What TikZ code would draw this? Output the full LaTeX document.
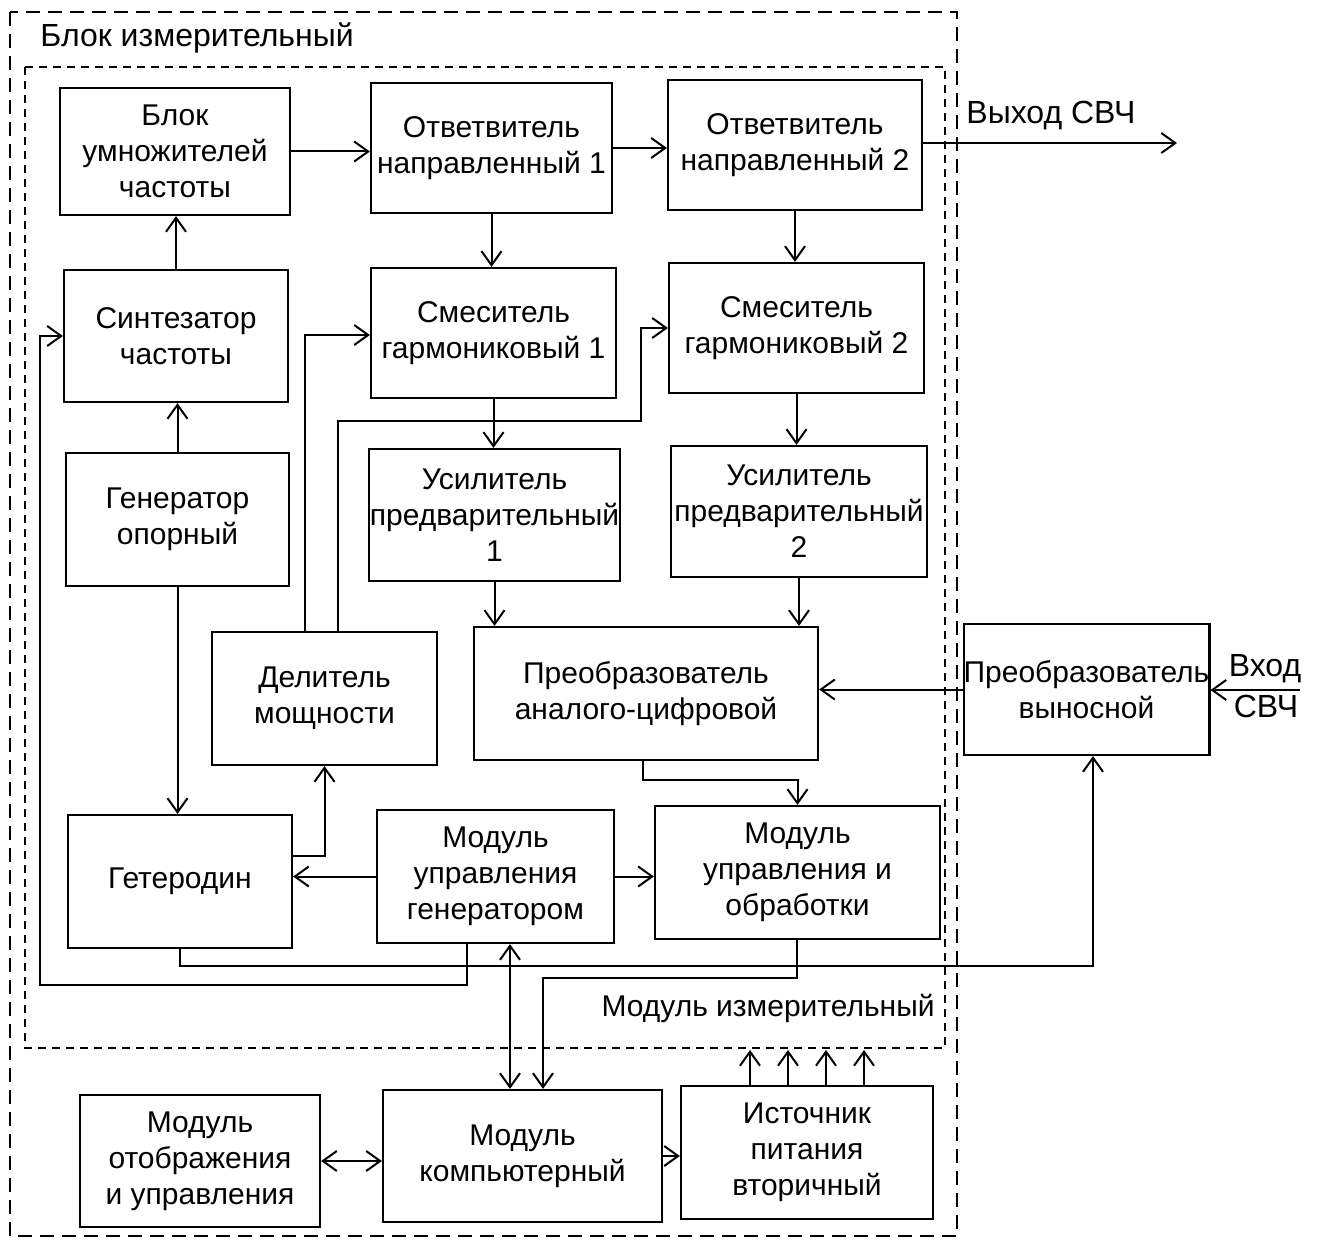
\documentclass[tikz,border=0pt]{standalone}
\usepackage{fontspec}
\setmainfont{Liberation Sans}
\usetikzlibrary{arrows.meta}
\tikzset{
  box/.style={draw, line width=1.1pt, rectangle, inner sep=0pt, align=center,
    font=\fontsize{15}{18}\selectfont},
  lbl/.style={inner sep=0pt, font=\fontsize{15}{18}\selectfont},
  biglbl/.style={inner sep=0pt, font=\fontsize{16}{19}\selectfont},
  arr/.style={line width=1pt, -{Straight Barb[length=7pt,width=10pt,line width=1pt]}},
  arrtwo/.style={line width=1pt, {Straight Barb[length=7pt,width=10pt,line width=1pt]}-{Straight Barb[length=7pt,width=10pt,line width=1pt]}},
  outerdash/.style={line width=1pt, dash pattern=on 7pt off 4pt},
  innerdash/.style={line width=1pt, dash pattern=on 4pt off 3pt}
}
\begin{document}
\begin{tikzpicture}[x=0.5pt,y=-0.5pt]
\useasboundingbox (0,0) rectangle (1317,1241);
% frames
\draw[outerdash] (10,12) rectangle (957,1236);
\draw[innerdash] (25,67) rectangle (945,1048);
\node[biglbl, anchor=west] (tblock) at (40,38) {Блок измерительный};
\node[lbl, anchor=east] (tmod) at (935,1008) {Модуль измерительный};

% boxes
\node[box, minimum width=115pt, minimum height=63.5pt] (bu) at (175,151.5) {Блок\\умножителей\\частоты};
\node[box, minimum width=120.5pt, minimum height=65pt] (on1) at (491.5,148) {Ответвитель\\направленный 1};
\node[box, minimum width=127pt, minimum height=65pt] (on2) at (795,145) {Ответвитель\\направленный 2};
\node[box, minimum width=112pt, minimum height=66pt] (syn) at (176,336) {Синтезатор\\частоты};
\node[box, minimum width=122.5pt, minimum height=65pt] (sg1) at (493.5,333) {Смеситель\\гармониковый 1};
\node[box, minimum width=127.5pt, minimum height=65pt] (sg2) at (796.5,328) {Смеситель\\гармониковый 2};
\node[box, minimum width=111.5pt, minimum height=66.5pt] (gen) at (177.5,519.5) {Генератор\\опорный};
\node[box, minimum width=125.5pt, minimum height=66pt] (us1) at (494.5,515) {Усилитель\\предварительный\\1};
\node[box, minimum width=128pt, minimum height=65.5pt] (us2) at (799,511.5) {Усилитель\\предварительный\\2};
\node[box, minimum width=112.5pt, minimum height=66.5pt] (del) at (324.5,698.5) {Делитель\\мощности};
\node[box, minimum width=172pt, minimum height=66.5pt] (adc) at (646,693.5) {Преобразователь\\аналого-цифровой};
\node[box, minimum width=122.5pt, minimum height=65.5pt] (pv) at (1086.5,689.5) {Преобразователь\\выносной};
\node[box, minimum width=112pt, minimum height=66.5pt] (het) at (180,881.5) {Гетеродин};
\node[box, minimum width=118.5pt, minimum height=66.5pt] (mug) at (495.5,876.5) {Модуль\\управления\\генератором};
\node[box, minimum width=142.5pt, minimum height=66.5pt] (muo) at (797.5,872.5) {Модуль\\управления и\\обработки};
\node[box, minimum width=120pt, minimum height=66pt] (mo) at (200,1161) {Модуль\\отображения\\и управления};
\node[box, minimum width=139.5pt, minimum height=66pt] (mk) at (522.5,1156) {Модуль\\компьютерный};
\node[box, minimum width=126pt, minimum height=66.5pt] (src) at (807,1152.5) {Источник\\питания\\вторичный};

% outside labels
\node[biglbl, anchor=west] (tout) at (966,116) {Выход СВЧ};
\node[biglbl] (tin1) at (1265,669) {Вход};
\node[biglbl] (tin2) at (1266,706) {СВЧ};

% helper coordinates
\coordinate (outpt) at (1177,143);
\coordinate (vin) at (1300,690);
\coordinate (c1) at (323,856);
\coordinate (c2) at (643,780);
\coordinate (d1) at (305,335);
\coordinate (d2) at (338,421);
\coordinate (d3) at (641,328);
\coordinate (h1) at (180,966);
\coordinate (h2) at (1093,966);
\coordinate (m1) at (467,985);
\coordinate (m2) at (40,985);
\coordinate (b1) at (510,1000);
\coordinate (k1) at (797,978);
\coordinate (k2) at (543,978);
\coordinate (s1) at (750,1050);
\coordinate (s2) at (788,1050);
\coordinate (s3) at (826,1050);
\coordinate (s4) at (864,1050);

% connectors
\draw[arr] (bu.east) -- (bu.east -| on1.west);
\draw[arr] (on1.east) -- (on1.east -| on2.west);
\draw[arr] (on2.east |- outpt) -- (outpt);
\draw[arr] (on1.south) -- (on1.south |- sg1.north);
\draw[arr] (on2.south) -- (on2.south |- sg2.north);
\draw[arr] (syn.north) -- (syn.north |- bu.south);
\draw[arr] (gen.north) -- (gen.north |- syn.south);
\draw[arr] (gen.south) -- (gen.south |- het.north);
\draw[arr] (sg1.south) -- (sg1.south |- us1.north);
\draw[arr] (sg2.south) -- (sg2.south |- us2.north);
\draw[arr] (us1.south) -- (us1.south |- adc.north);
\draw[arr] (us2.south) -- (us2.south |- adc.north);
\draw[arr] (pv.west) -- (pv.west -| adc.east);
\draw[arr] (vin) -- (vin -| pv.east);
\draw[arr] (het.east |- c1) -| (del.south);
\draw[arr] (mug.west) -- (mug.west -| het.east);
\draw[arr] (mug.east) -- (mug.east -| muo.west);
\draw[arr] (adc.south -| c2) -- (c2) -| (muo.north);
\draw[arr] (del.north -| d1) |- (sg1.west |- d1);
\draw[arr] (del.north -| d2) -- (d2) -| (d3) -- (sg2.west |- d3);
\draw[arr] (het.south) -- (h1) -- (h2) -- (h2 |- pv.south);
\draw[arr] (mug.south -| m1) -- (m1) -- (m2) |- (syn.west);
\draw[arrtwo] (mug.south -| b1) -- (mk.north -| b1);
\draw[arr] (muo.south -| k1) -- (k1) -- (k2) -- (k2 |- mk.north);
\draw[arrtwo] (mo.east) -- (mo.east -| mk.west);
\draw[arr] (mk.east) -- (mk.east -| src.west);
\foreach \s in {s1,s2,s3,s4} \draw[arr] (src.north -| \s) -- (\s);
\end{tikzpicture}
\end{document}
